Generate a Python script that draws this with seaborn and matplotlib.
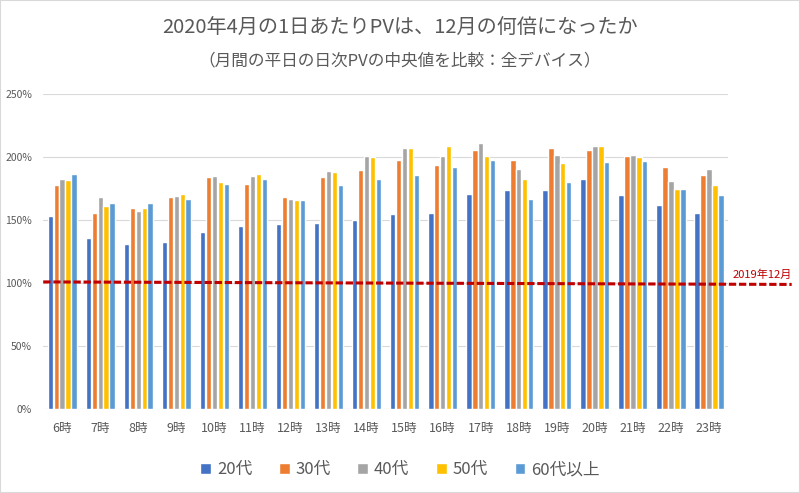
import pandas as pd
import matplotlib.pyplot as plt
import matplotlib.transforms as mtransforms
from matplotlib.patches import Rectangle
from matplotlib.ticker import FuncFormatter
import seaborn as sns

# データ（グラフから読み取り、単位は%）
hours = ['6時', '7時', '8時', '9時', '10時', '11時', '12時', '13時', '14時',
         '15時', '16時', '17時', '18時', '19時', '20時', '21時', '22時', '23時']
age_groups = ['20代', '30代', '40代', '50代', '60代以上']
v20 = [153, 136, 131, 133, 141, 145, 147, 148, 150, 155, 156, 171, 174, 174, 183, 170, 162, 156]
v30 = [178, 156, 160, 168, 184, 179, 168, 184, 190, 198, 194, 206, 198, 207, 206, 201, 192, 186]
v40 = [183, 168, 157, 169, 185, 185, 167, 189, 201, 207, 201, 211, 191, 202, 209, 202, 181, 191]
v50 = [182, 161, 160, 171, 180, 187, 166, 188, 200, 207, 209, 201, 183, 195, 209, 200, 175, 178]
v60 = [187, 164, 164, 167, 179, 183, 166, 178, 183, 186, 192, 198, 167, 180, 196, 197, 175, 170]
ref_label = '2019年12月'
ref_left, ref_right = 101, 99

colors = ['#4472C4', '#ED7D31', '#A5A5A5', '#FFC000', '#5B9BD5']
text_color = '#595959'

df = pd.DataFrame({'時間': hours, '20代': v20, '30代': v30, '40代': v40,
                   '50代': v50, '60代以上': v60})
df = df.melt(id_vars='時間', var_name='年代', value_name='PV比')

sns.set_style('white')
plt.rcParams['font.family'] = ['Noto Sans CJK JP', 'DejaVu Sans']

fig = plt.figure(figsize=(8, 4.93), dpi=100)
ax = fig.add_axes([0.054, 0.170, 0.856, 0.639])

sns.barplot(data=df, x='時間', y='PV比', hue='年代', order=hours, hue_order=age_groups,
            palette=colors, width=0.78, gap=0.08, saturation=1, ax=ax, legend=True)

ax.set_ylim(0, 250)
ax.set_yticks(range(0, 251, 50))
ax.yaxis.set_major_formatter(FuncFormatter(lambda v, p: f'{int(v)}%'))
ax.grid(axis='y', color='#D9D9D9', linewidth=0.8)
ax.set_axisbelow(True)
for s in ax.spines.values():
    s.set_visible(False)
ax.tick_params(axis='y', length=0, colors=text_color, labelsize=7.5, pad=8)
ax.tick_params(axis='x', length=0, colors=text_color, labelsize=9, pad=9)
ax.set_xlabel('')
ax.set_ylabel('')
ax.set_xlim(-0.5, len(hours) - 0.5)

# 基準線（2019年12月）
trans = mtransforms.blended_transform_factory(ax.transAxes, ax.transData)
ax.plot([0, 1.093], [ref_left, ref_right], transform=trans, color='#C00000',
        linestyle=(0, (2.4, 0.9)), linewidth=2.2, clip_on=False, zorder=5)
ax.text(1.093, ref_right + 3.5, ref_label, transform=trans, color='#C00000',
        fontsize=8, ha='right', va='bottom')

# 凡例
handles, labels = ax.get_legend_handles_labels()
ax.get_legend().remove()
fig.legend(handles, labels, loc='center', bbox_to_anchor=(0.5, 0.047), ncol=5,
           frameon=False, fontsize=12, labelcolor=text_color, handlelength=0.65,
           handleheight=0.65, handletextpad=0.35, columnspacing=1.6)

fig.text(0.5, 0.942, '2020年4月の1日あたりPVは、12月の何倍になったか',
         ha='center', va='center', fontsize=14.5, color=text_color)
fig.text(0.5, 0.876, '（月間の平日の日次PVの中央値を比較：全デバイス）',
         ha='center', va='center', fontsize=12, color=text_color)

fig.patches.append(Rectangle((0, 0), 1, 1, transform=fig.transFigure, fill=False,
                             edgecolor='#D9D9D9', linewidth=1.5))

plt.savefig('out.png', dpi=100)
